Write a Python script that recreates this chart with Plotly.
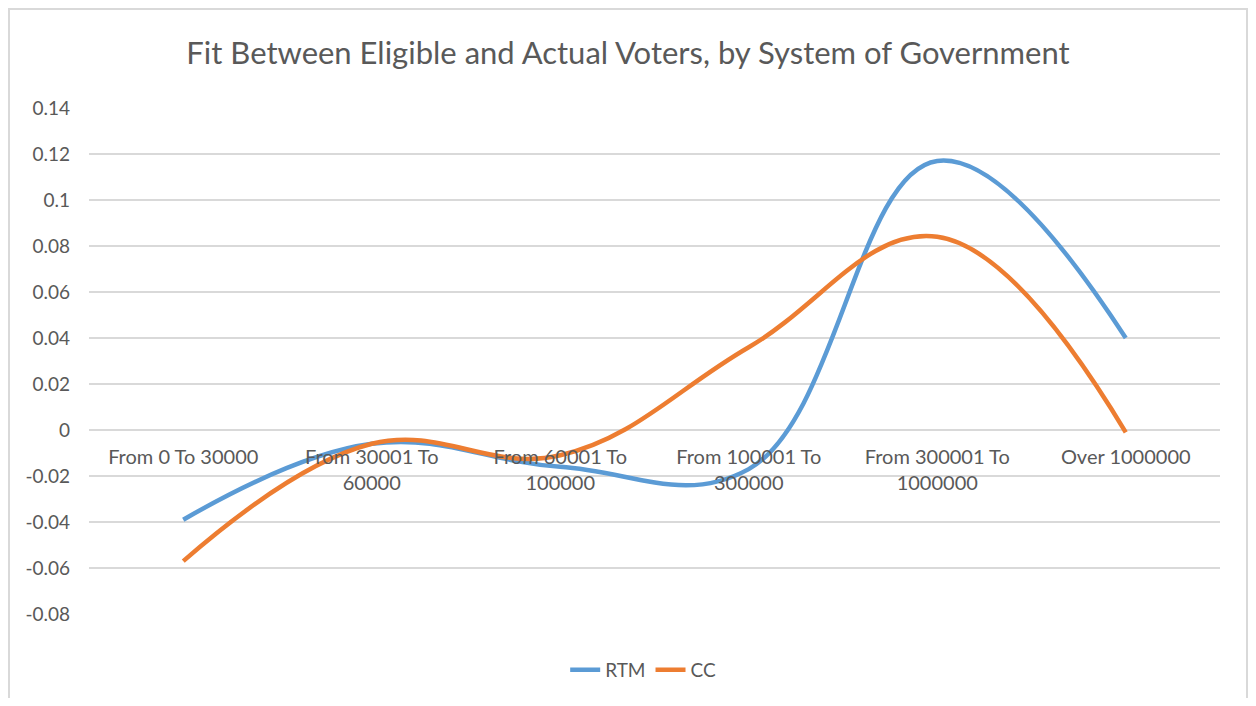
import plotly.graph_objects as go

categories = ["From 0 To 30000", "From 30001 To<br>60000", "From 60001 To<br>100000",
              "From 100001 To<br>300000", "From 300001 To<br>1000000", "Over 1000000"]
rtm = [-0.039, -0.006, -0.016, -0.017, 0.117, 0.040]
cc = [-0.057, -0.006, -0.011, 0.036, 0.084, -0.001]
y_ticks = [-0.08, -0.06, -0.04, -0.02, 0, 0.02, 0.04, 0.06, 0.08, 0.1, 0.12, 0.14]
y_labels = ["-0.08", "-0.06", "-0.04", "-0.02", "0", "0.02", "0.04", "0.06", "0.08", "0.1", "0.12", "0.14"]
y_min, y_max = -0.08, 0.14

FONT = "Lato"
GRAY = "#595959"

# page body adds an 8px offset; compensate in figure size/margins
W, H = 1240, 690
L, T, R, B = 81, 100, 28, 84

fig = go.Figure()
fig.add_trace(go.Scatter(x=categories, y=rtm, name="RTM", mode="lines",
                         line=dict(color="#5B9BD5", width=4.5, shape="spline", smoothing=1.15)))
fig.add_trace(go.Scatter(x=categories, y=cc, name="CC", mode="lines",
                         line=dict(color="#ED7D31", width=4.5, shape="spline", smoothing=1.15)))

pw = W - L - R
ph = H - T - B

fig.update_layout(
    width=W, height=H,
    paper_bgcolor="white", plot_bgcolor="white",
    margin=dict(l=L, r=R, t=T, b=B, autoexpand=False),
    title=dict(text="Fit Between Eligible and Actual Voters, by System of Government",
               x=0.5, xanchor="center", y=1 - 45 / H, yanchor="middle",
               font=dict(family=FONT, size=31, color=GRAY)),
    font=dict(family=FONT, size=19, color=GRAY),
    showlegend=True,
    legend=dict(orientation="h", x=0.49, xanchor="center", y=-56 / ph, yanchor="middle",
                font=dict(family=FONT, size=19, color=GRAY), itemwidth=30,
                traceorder="normal"),
    xaxis=dict(type="category", range=[-0.5, len(categories) - 0.5],
               showgrid=False, showline=False, zeroline=False,
               anchor="free", position=(0 - y_min) / (y_max - y_min),
               ticks="", ticklabelstandoff=13,
               tickfont=dict(family=FONT, size=20, color=GRAY)),
    yaxis=dict(range=[y_min, y_max], tickvals=y_ticks, ticktext=y_labels,
               showgrid=True, gridcolor="#D9D9D9", gridwidth=1.5,
               zeroline=False, showline=False, ticks="",
               ticklabelstandoff=18,
               tickfont=dict(family=FONT, size=19, color=GRAY)),
    shapes=[dict(type="rect", xref="paper", yref="paper",
                 x0=-(L - 1) / pw, x1=1 + (R - 1) / pw, y0=-(B + 20) / ph, y1=1 + (T - 1) / ph,
                 line=dict(color="#D9D9D9", width=2), fillcolor="rgba(0,0,0,0)",
                 layer="below")],
)

fig.write_html("out.html")
